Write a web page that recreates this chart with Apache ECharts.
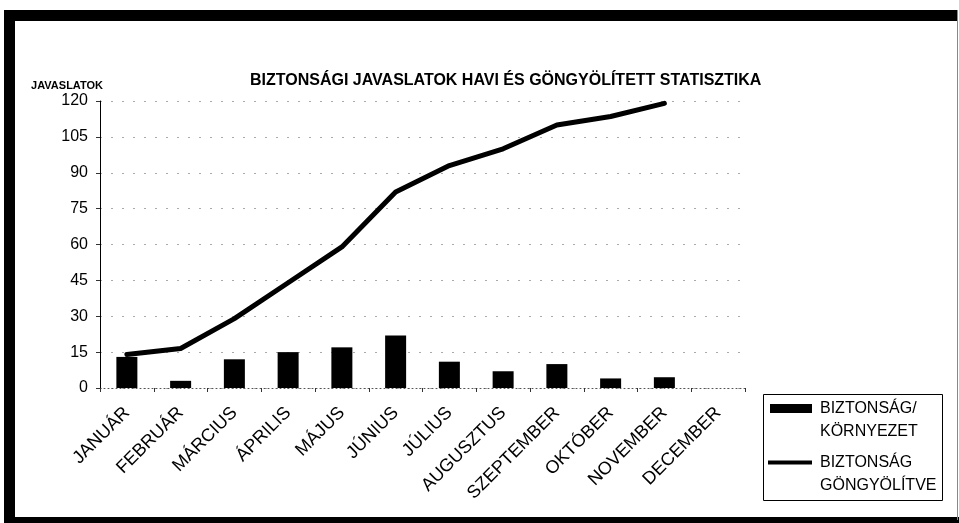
<!DOCTYPE html>
<html>
<head>
<meta charset="utf-8">
<script src="https://cdn.jsdelivr.net/npm/echarts@6/dist/echarts.min.js"></script>
<style>
    html, body { margin: 0; padding: 0; background: #fff; }
    #chart { width: 959px; height: 523px; }
</style>
</head>
<body>
<div id="chart"></div>
<script>
// months (categories)
var months = ['JANUÁR', 'FEBRUÁR', 'MÁRCIUS', 'ÁPRILIS', 'MÁJUS', 'JÚNIUS',
    'JÚLIUS', 'AUGUSZTUS', 'SZEPTEMBER', 'OKTÓBER', 'NOVEMBER', 'DECEMBER'];

// monthly suggestions (bars)
var monthly = [13, 3, 12, 15, 17, 22, 11, 7, 10, 4, 4.5, null];

// cumulative (line)
var cumulative = [14, 16.5, 29, 44, 59, 82, 93, 100, 110, 113.5, 119, null];

var barName = 'BIZTONSÁG/\nKÖRNYEZET';
var lineName = 'BIZTONSÁG\nGÖNGYÖLÍTVE';

var font = 'Liberation Sans, Arial, sans-serif';

// legend icons: the mark sits at the top, the empty point stretches the box
// so the first text line lines up with the mark
var barIcon = 'path://M0,0L42,0L42,9L0,9Z M45,32L45,32';
var lineIcon = 'path://M0,0L44,0L44,4L0,4Z M47,27L47,27';

var legendText = {
    fontFamily: font,
    fontSize: 16,
    color: '#000',
    lineHeight: 23
};

var chart = echarts.init(document.getElementById('chart'));

var option = {
    backgroundColor: '#fff',
    animation: false,
    title: {
        text: 'BIZTONSÁGI JAVASLATOK HAVI ÉS GÖNGYÖLÍTETT STATISZTIKA',
        left: 245,
        top: 68,
        textStyle: {
            fontFamily: font,
            fontSize: 16,
            fontWeight: 'bold',
            color: '#000'
        }
    },
    legend: [
        {
            left: 770,
            top: 397,
            padding: 0,
            itemWidth: 45,
            itemHeight: 32,
            selectedMode: false,
            data: [{name: barName, icon: barIcon}],
            textStyle: legendText
        },
        {
            left: 768,
            top: 451,
            padding: 0,
            itemWidth: 47,
            itemHeight: 27,
            selectedMode: false,
            data: [{name: lineName, icon: lineIcon}],
            textStyle: legendText
        }
    ],
    grid: {
        left: 100,
        right: 214,
        top: 101,
        bottom: 135
    },
    xAxis: {
        type: 'category',
        data: months,
        axisLine: {
            lineStyle: {color: '#555', width: 1, type: [1, 3]}
        },
        axisTick: {
            show: true,
            length: 4,
            lineStyle: {color: '#333'}
        },
        axisLabel: {
            rotate: 45,
            margin: 22,
            fontFamily: font,
            fontSize: 18,
            color: '#000'
        }
    },
    yAxis: {
        type: 'value',
        min: 0,
        max: 120,
        interval: 15,
        name: 'JAVASLATOK',
        nameLocation: 'end',
        nameGap: 10,
        nameTextStyle: {
            fontFamily: font,
            fontSize: 11,
            fontWeight: 'bold',
            color: '#000',
            align: 'right',
            padding: [0, -3, 0, 0]
        },
        axisLine: {
            show: true,
            lineStyle: {color: '#000', width: 1}
        },
        axisTick: {
            show: true,
            length: 4,
            lineStyle: {color: '#333'}
        },
        axisLabel: {
            margin: 12,
            fontFamily: font,
            fontSize: 16,
            color: '#000'
        },
        splitLine: {
            show: true,
            lineStyle: {color: '#aaa', width: 1, type: [2, 9]}
        }
    },
    series: [
        {
            name: barName,
            type: 'bar',
            barWidth: 21,
            data: monthly,
            itemStyle: {color: '#000'}
        },
        {
            name: lineName,
            type: 'line',
            data: cumulative,
            symbol: 'none',
            lineStyle: {color: '#000', width: 5, cap: 'round', join: 'round'},
            itemStyle: {color: '#000'}
        }
    ],
    graphic: [
        // frame around the scanned chart
        {type: 'rect', shape: {x: 4, y: 10, width: 954, height: 11}, style: {fill: '#000'}},
        {type: 'rect', shape: {x: 4, y: 10, width: 11, height: 513}, style: {fill: '#000'}},
        {type: 'rect', shape: {x: 4, y: 517, width: 955, height: 6}, style: {fill: '#000'}},
        {type: 'rect', shape: {x: 957, y: 10, width: 1, height: 510}, style: {fill: '#888'}},
        // legend box
        {type: 'rect', shape: {x: 763.5, y: 394.5, width: 179, height: 106},
            style: {fill: 'none', stroke: '#000', lineWidth: 1}}
    ]
};

chart.setOption(option);
</script>
</body>
</html>
